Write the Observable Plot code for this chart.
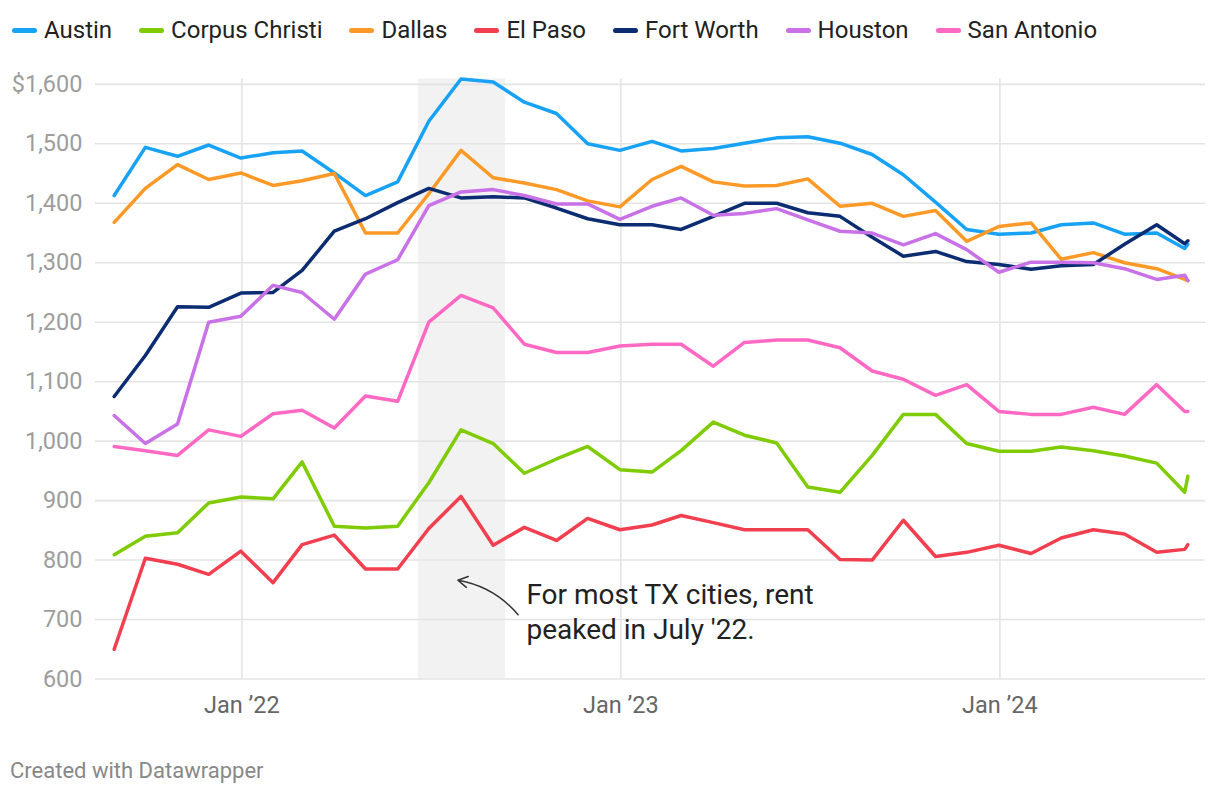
<!DOCTYPE html>
<html>
<head>
<meta charset="utf-8">
<script src="https://cdn.jsdelivr.net/npm/d3@7"></script>
<script src="https://cdn.jsdelivr.net/npm/@observablehq/plot@0.6"></script>
<style>
  body { margin: 0; background: #fff; font-family: Roboto, sans-serif; width: 1220px; height: 796px; overflow: hidden; }
  #legend { height: 60px; display: flex; align-items: center; padding-left: 12px; font-size: 24px; color: #222; }
  .item { display: flex; align-items: center; margin-right: 27px; }
  .sw { width: 25px; height: 5px; border-radius: 3px; margin-right: 7px; }
  #chart svg { display: block; }
  #footer { padding-left: 10px; font-size: 22px; line-height: 24px; color: #888; margin-top: 39px; }
</style>
</head>
<body>
<div id="legend"></div>
<div id="chart"></div>
<div id="footer">Created with Datawrapper</div>
<script>
// ---- data ----
const cities = ["Austin", "Corpus Christi", "Dallas", "El Paso", "Fort Worth", "Houston", "San Antonio"];
const colors = ["#17a2f6", "#7fcc05", "#fd9a27", "#f13f50", "#0c2c72", "#c971e6", "#ff69c4"];
const dates = [
  "2021-08-31","2021-09-30","2021-10-31","2021-11-30","2021-12-31",
  "2022-01-31","2022-02-28","2022-03-31","2022-04-30","2022-05-31","2022-06-30","2022-07-31",
  "2022-08-31","2022-09-30","2022-10-31","2022-11-30","2022-12-31",
  "2023-01-31","2023-02-28","2023-03-31","2023-04-30","2023-05-31","2023-06-30","2023-07-31",
  "2023-08-31","2023-09-30","2023-10-31","2023-11-30","2023-12-31",
  "2024-01-31","2024-02-29","2024-03-31","2024-04-30","2024-05-31","2024-06-27","2024-06-30"
];
const austin = [1413,1494,1479,1498,1476,1485,1488,1451,1413,1436,1538,1609,1604,1570,1551,1500,1489,1504,1488,1492,1501,1510,1512,1501,1482,1448,1402,1356,1348,1350,1364,1367,1348,1350,1324,1331];
const corpusChristi = [809,840,846,896,906,903,965,857,854,857,930,1019,996,946,970,991,952,948,984,1032,1010,997,923,914,976,1045,1045,996,983,983,990,984,975,963,914,941];
const dallas = [1368,1425,1465,1440,1451,1430,1438,1450,1350,1350,1416,1489,1443,1434,1423,1404,1394,1440,1462,1436,1429,1430,1441,1395,1400,1378,1388,1336,1361,1367,1306,1317,1300,1290,1272,1270];
const elPaso = [650,803,793,776,815,762,826,842,785,785,853,907,825,855,833,870,851,859,875,863,851,851,851,801,800,867,806,813,825,811,837,851,844,813,818,826];
const fortWorth = [1075,1144,1226,1225,1249,1250,1287,1353,1374,1401,1425,1409,1411,1409,1392,1374,1364,1364,1356,1378,1400,1400,1384,1378,1343,1311,1319,1302,1297,1289,1295,1297,1331,1364,1332,1337];
const houston = [1043,996,1029,1200,1210,1262,1250,1205,1281,1305,1396,1419,1423,1413,1399,1399,1373,1395,1409,1380,1383,1391,1372,1353,1350,1330,1349,1322,1284,1301,1301,1300,1290,1272,1279,1270];
const sanAntonio = [991,984,976,1019,1008,1046,1052,1022,1076,1067,1200,1245,1224,1163,1149,1149,1160,1163,1163,1126,1166,1170,1170,1157,1118,1104,1077,1095,1050,1045,1045,1057,1045,1095,1050,1050];
const series = [austin, corpusChristi, dallas, elPaso, fortWorth, houston, sanAntonio];

const yTicks = [600,700,800,900,1000,1100,1200,1300,1400,1500,1600];
const xTicks = ["2022-01-01","2023-01-01","2024-01-01"];
const xTickLabels = ["Jan \u201922","Jan \u201923","Jan \u201924"];
const xDomain = ["2021-08-13","2024-07-17"];
const band = {start: "2022-06-20", end: "2022-09-12"};
const note = {x: "2022-10-02", y: 715.4, text: "For most TX cities, rent\npeaked in July '22."};
const arrow = {x1: "2022-09-24", y1: 708, x2: "2022-07-28", y2: 766};

// ---- build ----
const parse = d3.utcParse("%Y-%m-%d");
const rows = [];
cities.forEach((c, i) => series[i].forEach((v, j) => rows.push({city: c, date: parse(dates[j]), value: v})));
const yMin = 600, yMax = d3.max(rows, d => d.value);
const xTickMap = new Map(xTicks.map((t, i) => [+parse(t), xTickLabels[i]]));
const fmt = d3.format(",");

// legend
const legend = document.getElementById("legend");
cities.forEach((c, i) => {
  const it = document.createElement("div"); it.className = "item";
  const sw = document.createElement("div"); sw.className = "sw"; sw.style.background = colors[i];
  const tx = document.createElement("span"); tx.textContent = c;
  it.appendChild(sw); it.appendChild(tx); legend.appendChild(it);
});

const chart = Plot.plot({
  width: 1220, height: 660,
  marginLeft: 95, marginRight: 15, marginTop: 18.5, marginBottom: 41.5,
  style: {fontFamily: "Roboto, sans-serif", background: "white", overflow: "visible"},
  x: {type: "utc", domain: xDomain.map(parse)},
  y: {domain: [yMin, yMax]},
  color: {domain: cities, range: colors},
  marks: [
    Plot.rect([band], {x1: d => parse(d.start), x2: d => parse(d.end), y1: yMin, y2: yMax, fill: "#f2f2f2"}),
    Plot.ruleY(yTicks, {stroke: "#e4e4e4", strokeWidth: 1.6}),
    Plot.ruleX(xTicks.map(parse), {stroke: "#e4e4e4", strokeWidth: 1.6}),
    Plot.axisY(yTicks, {tickSize: 0, tickPadding: 13, fontSize: 23.5, color: "#9d9d9d", label: null,
      tickFormat: d => (d === 1600 ? "$" : "") + fmt(d)}),
    Plot.axisX(xTicks.map(parse), {tickSize: 0, tickPadding: 17.5, fontSize: 23.5, color: "#666", label: null,
      tickFormat: d => xTickMap.get(+d)}),
    Plot.line(rows, {x: "date", y: "value", z: "city", stroke: "city", strokeWidth: 3.5,
      strokeLinejoin: "round", strokeLinecap: "round"}),
    Plot.arrow([arrow], {x1: d => parse(d.x1), y1: "y1", x2: d => parse(d.x2), y2: "y2",
      bend: -20, stroke: "#333", strokeWidth: 1.5, headLength: 11}),
    Plot.text([note], {x: d => parse(d.x), y: "y", text: "text", textAnchor: "start", lineAnchor: "middle",
      fontSize: 28, lineHeight: 1.225, fill: "#222"})
  ]
});
document.getElementById("chart").appendChild(chart);
</script>
</body>
</html>
